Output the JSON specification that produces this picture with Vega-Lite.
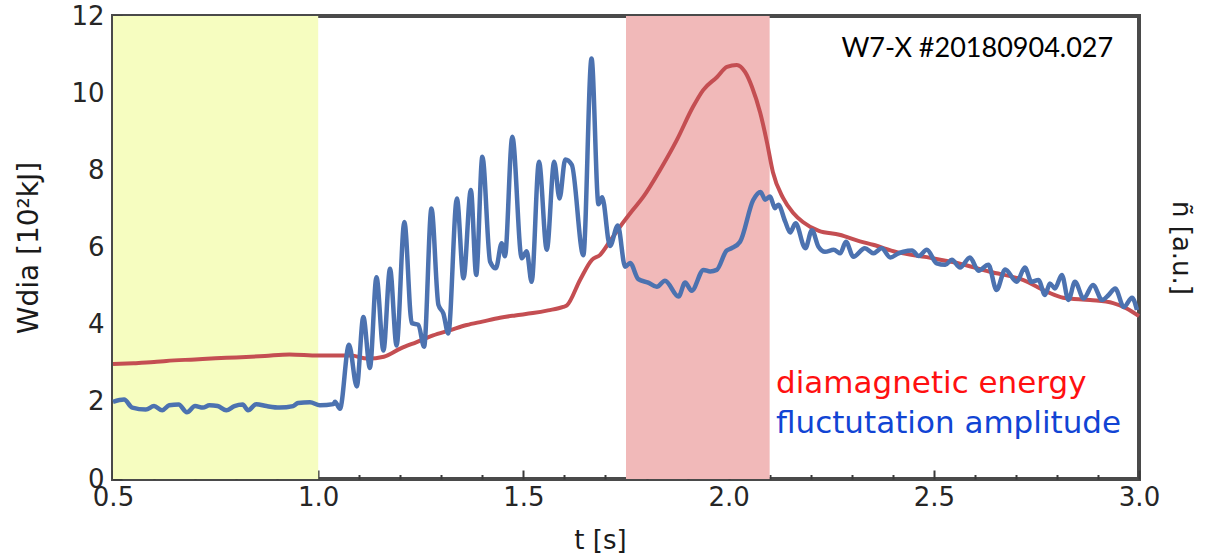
{
  "$schema": "https://vega.github.io/schema/vega-lite/v6.json",
  "width": 1026,
  "height": 463,
  "autosize": {"type": "none"},
  "padding": {"left": 113, "top": 16, "right": 70, "bottom": 78},
  "background": "white",
  "config": {
    "view": {"stroke": "#4a4a4a", "strokeWidth": 4},
    "axis": {
      "grid": false,
      "domain": false,
      "zindex": 1,
      "tickColor": "#3a3a3a",
      "tickWidth": 2,
      "labelFont": "DejaVu Sans",
      "labelFontSize": 26,
      "labelColor": "#262626",
      "labelOverlap": false,
      "labelFlush": false,
      "titleFont": "DejaVu Sans",
      "titleFontWeight": "normal",
      "titleColor": "#1a1a1a"
    }
  },
  "encoding": {
    "x": {
      "field": "t",
      "type": "quantitative",
      "scale": {"domain": [0.5, 3.0], "nice": false, "zero": false},
      "axis": {
        "values": [0.5,0.6,0.7,0.8,0.9,1.0,1.1,1.2,1.3,1.4,1.5,1.6,1.7,1.8,1.9,2.0,2.1,2.2,2.3,2.4,2.5,2.6,2.7,2.8,2.9,3.0],
        "labelExpr": "abs(datum.value*2 - round(datum.value*2)) < 0.01 ? format(datum.value, '.1f') : ''",
        "tickSize": {"condition": {"test": "abs(datum.value*2 - round(datum.value*2)) < 0.01", "value": -9}, "value": -4.5},
        "labelPadding": 14,
        "title": "t [s]",
        "titleFontSize": 26,
        "titleX": 487,
        "titleY": 61,
        "titleAlign": "center",
        "titleBaseline": "middle"
      }
    }
  },
  "layer": [
    {
      "data": {"values": [
        {"t": 0.5, "t2": 1.0, "region": "a"},
        {"t": 1.75, "t2": 2.1, "region": "b"}
      ]},
      "mark": {"type": "rect"},
      "encoding": {
        "x2": {"field": "t2"},
        "color": {"field": "region", "type": "nominal", "scale": {"domain": ["a", "b"], "range": ["#f6fdc0", "#f1b9b9"]}, "legend": null}
      }
    },
    {
      "data": {"values": [
        {"t": 0.5, "v": 2.98}, {"t": 0.55, "v": 3.0}, {"t": 0.6, "v": 3.03}, {"t": 0.63, "v": 3.06},
        {"t": 0.7, "v": 3.1}, {"t": 0.75, "v": 3.13}, {"t": 0.8, "v": 3.15}, {"t": 0.87, "v": 3.19},
        {"t": 0.93, "v": 3.23}, {"t": 1.0, "v": 3.2}, {"t": 1.08, "v": 3.2}, {"t": 1.12, "v": 3.12},
        {"t": 1.16, "v": 3.17}, {"t": 1.2, "v": 3.38}, {"t": 1.24, "v": 3.55}, {"t": 1.28, "v": 3.72},
        {"t": 1.32, "v": 3.85}, {"t": 1.362, "v": 3.99}, {"t": 1.4, "v": 4.08}, {"t": 1.443, "v": 4.18},
        {"t": 1.48, "v": 4.24}, {"t": 1.523, "v": 4.3}, {"t": 1.56, "v": 4.37}, {"t": 1.597, "v": 4.46},
        {"t": 1.606, "v": 4.5}, {"t": 1.638, "v": 5.16}, {"t": 1.667, "v": 5.68}, {"t": 1.687, "v": 5.81},
        {"t": 1.71, "v": 6.15}, {"t": 1.735, "v": 6.53}, {"t": 1.765, "v": 6.95}, {"t": 1.792, "v": 7.31},
        {"t": 1.833, "v": 8.01}, {"t": 1.874, "v": 8.79}, {"t": 1.913, "v": 9.64}, {"t": 1.938, "v": 10.08},
        {"t": 1.972, "v": 10.42}, {"t": 1.996, "v": 10.68}, {"t": 2.02, "v": 10.73}, {"t": 2.04, "v": 10.55},
        {"t": 2.057, "v": 10.16}, {"t": 2.077, "v": 9.49}, {"t": 2.094, "v": 8.7}, {"t": 2.108, "v": 7.95},
        {"t": 2.133, "v": 7.28}, {"t": 2.157, "v": 6.9}, {"t": 2.181, "v": 6.66}, {"t": 2.22, "v": 6.43},
        {"t": 2.27, "v": 6.33}, {"t": 2.32, "v": 6.16}, {"t": 2.352, "v": 6.07}, {"t": 2.41, "v": 5.88},
        {"t": 2.483, "v": 5.75}, {"t": 2.557, "v": 5.6}, {"t": 2.637, "v": 5.37}, {"t": 2.717, "v": 5.16},
        {"t": 2.776, "v": 4.85}, {"t": 2.815, "v": 4.7}, {"t": 2.881, "v": 4.64}, {"t": 2.937, "v": 4.56},
        {"t": 2.97, "v": 4.42}, {"t": 3.0, "v": 4.22}
      ]},
      "mark": {"type": "line", "color": "#c44e52", "strokeWidth": 4, "strokeJoin": "round", "interpolate": "monotone"},
      "encoding": {
        "y": {
          "field": "v", "type": "quantitative",
          "scale": {"domain": [0, 12], "nice": false},
          "axis": {
            "orient": "left",
            "values": [0,0.5,1,1.5,2,2.5,3,3.5,4,4.5,5,5.5,6,6.5,7,7.5,8,8.5,9,9.5,10,10.5,11,11.5,12],
            "labelExpr": "abs(datum.value/2 - round(datum.value/2)) < 0.01 ? format(datum.value, 'd') : ''",
            "tickSize": {"condition": {"test": "abs(datum.value/2 - round(datum.value/2)) < 0.01", "value": -9}, "value": -4.5},
            "labelPadding": 18,
            "title": "Wdia [10²kJ]",
            "titleFontSize": 28,
            "titleAngle": -90,
            "titleX": -84,
            "titleY": 231.5,
            "titleAlign": "center",
            "titleBaseline": "middle"
          }
        }
      }
    },
    {
      "data": {"values": [
        {"t": 0.5, "v": 2.0}, {"t": 0.527, "v": 2.06}, {"t": 0.547, "v": 1.85}, {"t": 0.58, "v": 1.8},
        {"t": 0.6, "v": 1.89}, {"t": 0.62, "v": 1.78}, {"t": 0.637, "v": 1.91}, {"t": 0.66, "v": 1.93},
        {"t": 0.68, "v": 1.73}, {"t": 0.7, "v": 1.89}, {"t": 0.719, "v": 1.85}, {"t": 0.735, "v": 1.91},
        {"t": 0.755, "v": 1.89}, {"t": 0.776, "v": 1.78}, {"t": 0.796, "v": 1.89}, {"t": 0.816, "v": 1.93},
        {"t": 0.829, "v": 1.78}, {"t": 0.849, "v": 1.94}, {"t": 0.874, "v": 1.89}, {"t": 0.906, "v": 1.85},
        {"t": 0.939, "v": 1.89}, {"t": 0.951, "v": 1.97}, {"t": 0.98, "v": 1.99}, {"t": 1.004, "v": 1.91},
        {"t": 1.037, "v": 1.94}, {"t": 1.041, "v": 2.0}, {"t": 1.053, "v": 1.82}, {"t": 1.075, "v": 3.48},
        {"t": 1.094, "v": 2.4}, {"t": 1.11, "v": 4.2}, {"t": 1.126, "v": 2.88}, {"t": 1.142, "v": 5.23},
        {"t": 1.159, "v": 3.33}, {"t": 1.175, "v": 5.45}, {"t": 1.191, "v": 3.46}, {"t": 1.21, "v": 6.66},
        {"t": 1.228, "v": 4.04}, {"t": 1.244, "v": 4.0}, {"t": 1.258, "v": 3.43}, {"t": 1.276, "v": 7.01},
        {"t": 1.293, "v": 4.51}, {"t": 1.305, "v": 4.29}, {"t": 1.317, "v": 3.77}, {"t": 1.338, "v": 7.27},
        {"t": 1.354, "v": 5.2}, {"t": 1.372, "v": 7.49}, {"t": 1.385, "v": 5.29}, {"t": 1.4, "v": 8.35},
        {"t": 1.419, "v": 5.63}, {"t": 1.433, "v": 5.46}, {"t": 1.447, "v": 6.11}, {"t": 1.455, "v": 5.77},
        {"t": 1.473, "v": 8.87}, {"t": 1.496, "v": 5.72}, {"t": 1.508, "v": 5.9}, {"t": 1.52, "v": 5.11},
        {"t": 1.538, "v": 8.22}, {"t": 1.557, "v": 5.94}, {"t": 1.575, "v": 8.22}, {"t": 1.588, "v": 7.27},
        {"t": 1.602, "v": 8.28}, {"t": 1.618, "v": 8.14}, {"t": 1.646, "v": 5.8}, {"t": 1.666, "v": 10.9},
        {"t": 1.683, "v": 7.12}, {"t": 1.692, "v": 7.3}, {"t": 1.711, "v": 6.04}, {"t": 1.73, "v": 6.57},
        {"t": 1.748, "v": 5.5}, {"t": 1.76, "v": 5.6}, {"t": 1.78, "v": 5.18}, {"t": 1.804, "v": 5.09},
        {"t": 1.825, "v": 4.98}, {"t": 1.845, "v": 5.14}, {"t": 1.878, "v": 4.73}, {"t": 1.894, "v": 5.09},
        {"t": 1.91, "v": 4.88}, {"t": 1.939, "v": 5.42}, {"t": 1.955, "v": 5.38}, {"t": 1.971, "v": 5.42},
        {"t": 1.995, "v": 5.92}, {"t": 2.007, "v": 5.98}, {"t": 2.028, "v": 6.15}, {"t": 2.06, "v": 7.23},
        {"t": 2.078, "v": 7.44}, {"t": 2.089, "v": 7.24}, {"t": 2.101, "v": 7.32}, {"t": 2.113, "v": 7.02},
        {"t": 2.121, "v": 7.11}, {"t": 2.138, "v": 6.67}, {"t": 2.15, "v": 6.39}, {"t": 2.163, "v": 6.63},
        {"t": 2.187, "v": 5.98}, {"t": 2.203, "v": 6.45}, {"t": 2.219, "v": 6.02}, {"t": 2.235, "v": 5.89},
        {"t": 2.256, "v": 5.94}, {"t": 2.272, "v": 5.85}, {"t": 2.286, "v": 6.15}, {"t": 2.304, "v": 5.76},
        {"t": 2.332, "v": 5.98}, {"t": 2.353, "v": 5.85}, {"t": 2.373, "v": 5.98}, {"t": 2.394, "v": 5.74},
        {"t": 2.414, "v": 5.85}, {"t": 2.426, "v": 5.89}, {"t": 2.447, "v": 5.92}, {"t": 2.463, "v": 5.78},
        {"t": 2.483, "v": 5.94}, {"t": 2.507, "v": 5.59}, {"t": 2.528, "v": 5.55}, {"t": 2.544, "v": 5.68},
        {"t": 2.564, "v": 5.48}, {"t": 2.588, "v": 5.74}, {"t": 2.609, "v": 5.4}, {"t": 2.633, "v": 5.55},
        {"t": 2.653, "v": 4.9}, {"t": 2.674, "v": 5.43}, {"t": 2.702, "v": 5.11}, {"t": 2.722, "v": 5.48},
        {"t": 2.738, "v": 5.11}, {"t": 2.755, "v": 5.16}, {"t": 2.771, "v": 4.77}, {"t": 2.783, "v": 5.07},
        {"t": 2.795, "v": 4.94}, {"t": 2.812, "v": 5.29}, {"t": 2.828, "v": 4.64}, {"t": 2.844, "v": 5.11},
        {"t": 2.865, "v": 4.68}, {"t": 2.888, "v": 5.03}, {"t": 2.91, "v": 4.64}, {"t": 2.926, "v": 4.77},
        {"t": 2.942, "v": 4.94}, {"t": 2.963, "v": 4.46}, {"t": 2.983, "v": 4.7}, {"t": 2.995, "v": 4.38}
      ]},
      "mark": {"type": "line", "color": "#4c72b0", "strokeWidth": 4.5, "strokeJoin": "round", "interpolate": "monotone"},
      "encoding": {
        "y": {
          "field": "v", "type": "quantitative",
          "scale": {"domain": [0, 12], "nice": false},
          "axis": {
            "orient": "right",
            "labels": false,
            "ticks": false,
            "domain": false,
            "title": "ñ [a.u.]",
            "titleFontSize": 26,
            "titleAngle": 90,
            "titleX": 41,
            "titleY": 231.5,
            "titleAlign": "center",
            "titleBaseline": "middle"
          }
        }
      }
    },
    {
      "data": {"values": [{"t": 2.937, "v": 10.95, "label": "W7-X #20180904.027"}]},
      "mark": {"type": "text", "align": "right", "baseline": "alphabetic", "font": "Lato", "fontSize": 27, "color": "#000000"},
      "encoding": {
        "y": {"field": "v", "type": "quantitative", "scale": {"domain": [0, 12], "nice": false}, "axis": null},
        "text": {"field": "label"}
      }
    },
    {
      "data": {"values": [{"t": 2.1155, "v": 2.23, "label": "diamagnetic energy"}]},
      "mark": {"type": "text", "align": "left", "baseline": "alphabetic", "font": "DejaVu Sans", "fontSize": 31, "color": "#ff1010"},
      "encoding": {
        "y": {"field": "v", "type": "quantitative", "scale": {"domain": [0, 12], "nice": false}, "axis": null},
        "text": {"field": "label"}
      }
    },
    {
      "data": {"values": [{"t": 2.1155, "v": 1.19, "label": "fluctutation amplitude"}]},
      "mark": {"type": "text", "align": "left", "baseline": "alphabetic", "font": "DejaVu Sans", "fontSize": 31, "color": "#1144d4"},
      "encoding": {
        "y": {"field": "v", "type": "quantitative", "scale": {"domain": [0, 12], "nice": false}, "axis": null},
        "text": {"field": "label"}
      }
    }
  ],
  "resolve": {"axis": {"y": "independent"}}
}
